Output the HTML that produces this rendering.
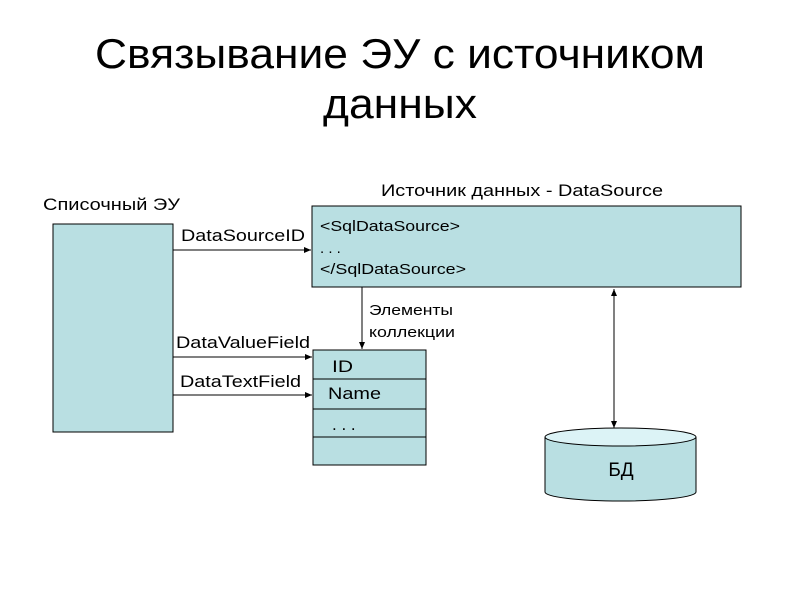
<!DOCTYPE html>
<html><head><meta charset="utf-8"><style>
body{margin:0;background:#fff;width:800px;height:600px;overflow:hidden}
</style></head><body>
<svg width="800" height="600" xmlns="http://www.w3.org/2000/svg" font-family="Liberation Sans, sans-serif">
<defs><marker id="a" markerWidth="8" markerHeight="8" refX="7" refY="4" orient="auto-start-reverse" markerUnits="userSpaceOnUse"><path d="M0,1 L7,4 L0,7z" fill="#000"/></marker></defs>
<text x="400" y="68" font-size="42" text-anchor="middle" textLength="610" lengthAdjust="spacingAndGlyphs">Связывание ЭУ с источником</text>
<text x="400" y="118" font-size="42" text-anchor="middle" textLength="154" lengthAdjust="spacingAndGlyphs">данных</text>
<text x="43" y="210" font-size="17" textLength="137" lengthAdjust="spacingAndGlyphs">Списочный ЭУ</text>
<rect x="53" y="224" width="120" height="208" fill="#b9dfe2" stroke="#000"/>
<text x="381" y="196" font-size="17" textLength="282" lengthAdjust="spacingAndGlyphs">Источник данных - DataSource</text>
<rect x="312" y="206" width="429" height="81" fill="#b9dfe2" stroke="#000"/>
<text x="320" y="231" font-size="15" textLength="140" lengthAdjust="spacingAndGlyphs">&lt;SqlDataSource&gt;</text>
<text x="320" y="253" font-size="15">. . .</text>
<text x="320" y="274" font-size="15" textLength="146" lengthAdjust="spacingAndGlyphs">&lt;/SqlDataSource&gt;</text>
<rect x="313" y="350" width="113" height="115" fill="#b9dfe2" stroke="#000"/>
<line x1="313" y1="379" x2="426" y2="379" stroke="#000"/>
<line x1="313" y1="409" x2="426" y2="409" stroke="#000"/>
<line x1="313" y1="437" x2="426" y2="437" stroke="#000"/>
<text x="332" y="372" font-size="17" textLength="21" lengthAdjust="spacingAndGlyphs">ID</text>
<text x="328" y="399" font-size="17" textLength="53" lengthAdjust="spacingAndGlyphs">Name</text>
<text x="332" y="430" font-size="17">. . .</text>
<line x1="173" y1="250" x2="311" y2="250" stroke="#000" marker-end="url(#a)"/>
<line x1="173" y1="357" x2="312" y2="357" stroke="#000" marker-end="url(#a)"/>
<line x1="173" y1="395" x2="312" y2="395" stroke="#000" marker-end="url(#a)"/>
<text x="181" y="241" font-size="17" textLength="124" lengthAdjust="spacingAndGlyphs">DataSourceID</text>
<text x="176" y="348" font-size="17" textLength="134" lengthAdjust="spacingAndGlyphs">DataValueField</text>
<text x="180" y="387" font-size="17" textLength="121" lengthAdjust="spacingAndGlyphs">DataTextField</text>
<line x1="362" y1="287" x2="362" y2="349" stroke="#000" marker-end="url(#a)"/>
<text x="369" y="315" font-size="15" textLength="84" lengthAdjust="spacingAndGlyphs">Элементы</text>
<text x="369" y="337" font-size="15" textLength="86" lengthAdjust="spacingAndGlyphs">коллекции</text>
<line x1="614" y1="289" x2="614" y2="428" stroke="#000" marker-start="url(#a)" marker-end="url(#a)"/>
<path d="M545,437 L545,492 A75.5,9 0 0 0 696,492 L696,437" fill="#b9dfe2" stroke="#000"/>
<ellipse cx="620.5" cy="437" rx="75.5" ry="9" fill="#dcf3f6" stroke="#000"/>
<text x="621" y="476" font-size="19" text-anchor="middle">БД</text>
</svg>
</body></html>
